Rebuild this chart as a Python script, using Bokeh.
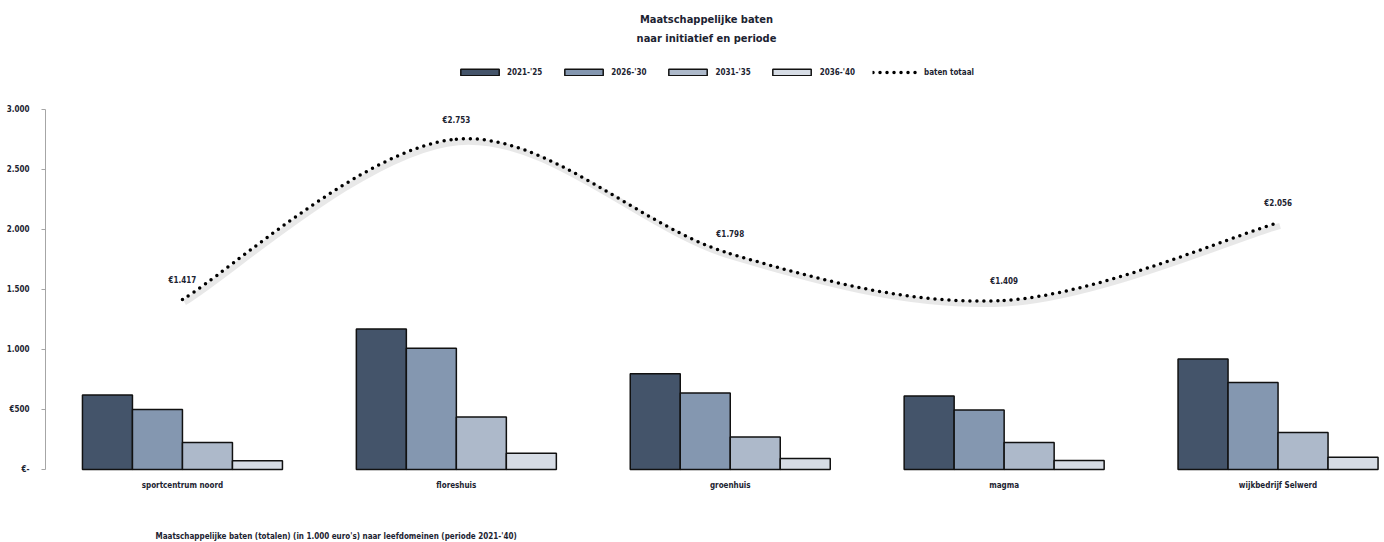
import numpy as np
from bokeh.plotting import figure
from bokeh.models import Range1d, FixedTicker, Legend, LegendItem, Label, ColumnDataSource
from bokeh.core.properties import value
from bokeh.embed import file_html
from bokeh.resources import INLINE

title_lines = ["Maatschappelijke baten", "naar initiatief en periode"]
categories = ["sportcentrum noord", "floreshuis", "groenhuis", "magma", "wijkbedrijf Selwerd"]
periods = ["2021-'25", "2026-'30", "2031-'35", "2036-'40"]
v2021 = [620, 1170, 798, 612, 920]
v2026 = [500, 1010, 638, 495, 725]
v2031 = [225, 437, 270, 226, 308]
v2036 = [72, 136, 92, 76, 103]
totals = [1417, 2753, 1798, 1409, 2056]
total_label = "baten totaal"
y_ticks = [0, 500, 1000, 1500, 2000, 2500, 3000]
y_tick_labels = ["€-", "€500", "1.000", "1.500", "2.000", "2.500", "3.000"]
caption = "Maatschappelijke baten (totalen) (in 1.000 euro's) naar leefdomeinen (periode 2021-'40)"

FONT = "'DejaVu Sans Condensed', Roboto, sans-serif"
TXT = "#1c2331"
FS = "8px"
colors = ["#44546a", "#8497b0", "#adb9ca", "#d6dce5"]

W, H = 1384, 542
left = 45
base = 469            # pixel row of value 0
px_x = 273.9          # pixels per category
px_y = 0.12           # pixels per unit
p = figure(width=W, height=H, output_backend="svg", toolbar_location=None,
           x_range=Range1d(-0.5, -0.5 + (W - left) / px_x),
           y_range=Range1d(-(H - base) / px_y, base / px_y),
           min_border_left=left, min_border_right=0, min_border_top=0, min_border_bottom=0)
p.outline_line_color = None
p.grid.grid_line_color = None
p.background_fill_color = "white"
p.xaxis.visible = False

n = len(categories)
idx = np.arange(n)
bw = 50 / px_x
bar_renderers = []
for j, vals in enumerate([v2021, v2026, v2031, v2036]):
    src = ColumnDataSource(dict(x=idx + (j - 1.5) * bw, top=vals))
    r = p.vbar(x="x", top="top", width=bw, bottom=0, source=src,
               fill_color=colors[j], line_color="#111111", line_width=1.5)
    bar_renderers.append(r)

# smooth total line (Catmull-Rom style Bezier through totals)
T = np.array(totals, dtype=float)
x0, y0, x1, y1, cx0, cy0, cx1, cy1 = ([] for _ in range(8))
for k in range(n - 1):
    a = max(k - 1, 0)
    d = min(k + 2, n - 1)
    x0.append(idx[k]); y0.append(T[k]); x1.append(idx[k + 1]); y1.append(T[k + 1])
    cx0.append(idx[k] + (idx[k + 1] - idx[a]) / 6); cy0.append(T[k] + (T[k + 1] - T[a]) / 6)
    cx1.append(idx[k + 1] - (idx[d] - idx[k]) / 6); cy1.append(T[k + 1] - (T[d] - T[k]) / 6)
dx, dy = 2 / px_x, -3 / px_y
shadow = ColumnDataSource(dict(x0=np.array(x0) + dx, y0=np.array(y0) + dy, x1=np.array(x1) + dx,
                               y1=np.array(y1) + dy, cx0=np.array(cx0) + dx, cy0=np.array(cy0) + dy,
                               cx1=np.array(cx1) + dx, cy1=np.array(cy1) + dy))
p.bezier(x0="x0", y0="y0", x1="x1", y1="y1", cx0="cx0", cy0="cy0", cx1="cx1", cy1="cy1",
         source=shadow, line_color="#bdbdbd", line_alpha=0.35, line_width=6)
line_src = ColumnDataSource(dict(x0=x0, y0=y0, x1=x1, y1=y1, cx0=cx0, cy0=cy0, cx1=cx1, cy1=cy1))
line_r = p.bezier(x0="x0", y0="y0", x1="x1", y1="y1", cx0="cx0", cy0="cy0", cx1="cx1", cy1="cy1",
                  source=line_src, line_color="black", line_width=3.5, line_dash="0 7", line_cap="round")

lab_src = ColumnDataSource(dict(x=idx, y=totals,
                                t=["€" + f"{v:,}".replace(",", ".") for v in totals]))
p.text(x="x", y="y", text="t", source=lab_src, y_offset=-19, text_align="center",
       text_baseline="middle", text_font=value(FONT), text_font_style="bold",
       text_font_size=FS, text_color=TXT)

cat_src = ColumnDataSource(dict(x=idx, y=[0] * n, t=categories))
p.text(x="x", y="y", text="t", source=cat_src, y_offset=16, text_align="center",
       text_baseline="middle", text_font=value(FONT), text_font_style="bold",
       text_font_size=FS, text_color=TXT)

# y axis
p.yaxis.ticker = FixedTicker(ticks=y_ticks)
p.yaxis.major_label_overrides = {t: l for t, l in zip(y_ticks, y_tick_labels)}
p.yaxis.bounds = (0, 3000)
p.yaxis.axis_line_color = "#a6a6a6"
p.yaxis.major_tick_line_color = "#a6a6a6"
p.yaxis.major_tick_out = 4
p.yaxis.major_tick_in = 0
p.yaxis.minor_tick_line_color = None
p.yaxis.major_label_standoff = 12
p.yaxis.major_label_text_font = FONT
p.yaxis.major_label_text_font_style = "bold"
p.yaxis.major_label_text_font_size = FS
p.yaxis.major_label_text_color = TXT

legend = Legend(items=[LegendItem(label=periods[j], renderers=[bar_renderers[j]]) for j in range(4)]
                + [LegendItem(label=total_label, renderers=[line_r])],
                orientation="horizontal", location="top_center", glyph_width=48, glyph_height=8,
                label_height=10, label_standoff=4, spacing=17, padding=0, margin=67,
                background_fill_alpha=0, border_line_color=None,
                label_text_font=FONT, label_text_font_style="bold", label_text_font_size=FS,
                label_text_color=TXT)
p.add_layout(legend, "center")

tx = (706 - left) / px_x - 0.5
for line, py in zip(title_lines, [19, 38]):
    p.add_layout(Label(x=tx, y=(base - py) / px_y, text=line, text_align="center",
                       text_baseline="middle", text_font=FONT, text_font_style="bold",
                       text_font_size="11px", text_color=TXT))
p.add_layout(Label(x=(155 - left) / px_x - 0.5, y=(base - 536) / px_y, text=caption,
                   text_align="left", text_baseline="middle", text_font=FONT,
                   text_font_style="bold", text_font_size=FS, text_color=TXT))

open("out.html", "w").write(file_html(p, INLINE))
